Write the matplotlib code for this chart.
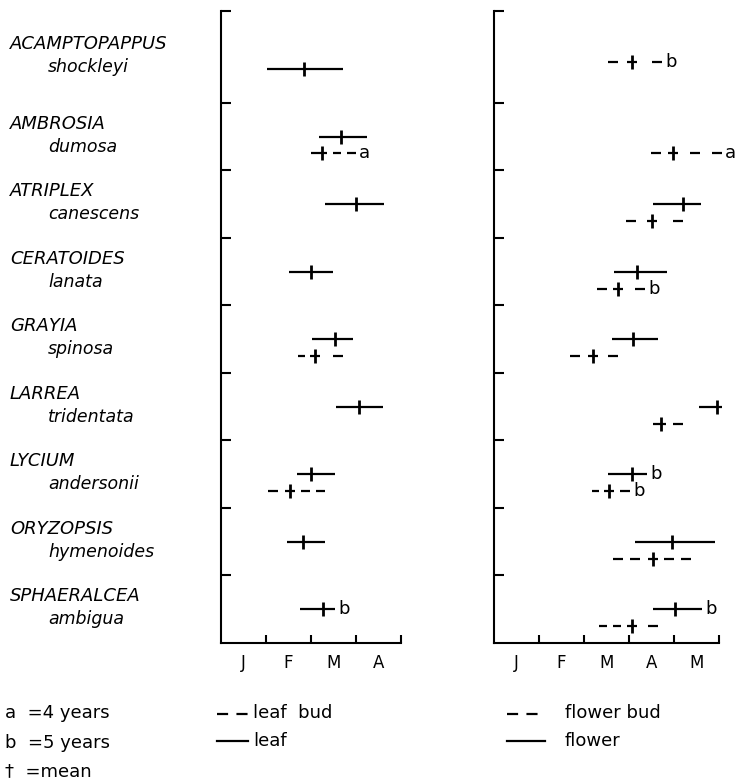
import matplotlib

matplotlib.use("Agg")
import matplotlib.pyplot as plt
import matplotlib.transforms as mtransforms
import numpy as np
from matplotlib.lines import Line2D

nan = np.nan

# values are months after 1 January (0 = Jan 1, 1 = Feb 1, ...)
genera = [
    "ACAMPTOPAPPUS",
    "AMBROSIA",
    "ATRIPLEX",
    "CERATOIDES",
    "GRAYIA",
    "LARREA",
    "LYCIUM",
    "ORYZOPSIS",
    "SPHAERALCEA",
]
epithets = [
    "shockleyi",
    "dumosa",
    "canescens",
    "lanata",
    "spinosa",
    "tridentata",
    "andersonii",
    "hymenoides",
    "ambigua",
]

leaf_start = [1.02, 2.18, 2.31, 1.51, 2.02, 2.56, 1.69, 1.47, 1.76]
leaf_mean = [1.84, 2.67, 3.00, 2.00, 2.53, 3.07, 2.00, 1.82, 2.27]
leaf_end = [2.71, 3.24, 3.62, 2.49, 2.93, 3.60, 2.53, 2.31, 2.53]
leaf_note = ["", "", "", "", "", "", "", "", "b"]

leafbud_start = [nan, 2.00, nan, nan, 1.71, nan, 1.04, nan, nan]
leafbud_mean = [nan, 2.24, nan, nan, 2.09, nan, 1.53, nan, nan]
leafbud_end = [nan, 3.00, nan, nan, 2.71, nan, 2.31, nan, nan]
leafbud_note = ["", "a", "", "", "", "", "", "", ""]

flower_start = [nan, nan, 3.53, 2.67, 2.62, 4.56, 2.53, 3.13, 3.53]
flower_mean = [nan, nan, 4.20, 3.18, 3.09, 4.96, 3.07, 3.96, 4.02]
flower_end = [nan, nan, 4.60, 3.84, 3.64, 5.07, 3.40, 4.91, 4.62]
flower_note = ["", "", "", "", "", "", "b", "", "b"]

flowerbud_start = [2.53, 3.49, 2.93, 2.29, 1.69, 3.53, 2.18, 2.64, 2.33]
flowerbud_mean = [3.07, 3.98, 3.51, 2.76, 2.20, 3.71, 2.56, 3.53, 3.07]
flowerbud_end = [3.73, 5.07, 4.20, 3.36, 2.76, 4.20, 3.02, 4.38, 3.64]
flowerbud_note = ["b", "a", "", "b", "", "", "b", "", ""]

leaf_months = ["J", "F", "M", "A"]
flower_months = ["J", "F", "M", "A", "M"]

LW = 1.6
DASH_PX, GAP_PX = 10.0, 8.0
DPI = 100


def half_dashes(a, b, dash, gap):
    """Dashes from a towards b (b is where the mean dash begins)."""
    length = abs(b - a)
    sign = 1 if b >= a else -1
    if length < 0.6 * dash:
        return [(a, b)]
    k = max(1, int(round(length / (dash + gap))))
    step = length / k
    d = min(dash, step * 0.6)
    return [(a + sign * j * step, a + sign * (j * step + d)) for j in range(k)]


def draw_bar(ax, y, start, mean, end, note, dashed):
    if np.isnan(start):
        return
    if dashed:
        px = ax.transData.transform((1, 0))[0] - ax.transData.transform((0, 0))[0]
        dash, gap = DASH_PX / px, GAP_PX / px
        segs = [(mean - dash / 2, mean + dash / 2)]
        segs += half_dashes(start, mean - dash / 2, dash, gap)
        segs += half_dashes(end, mean + dash / 2, dash, gap)
        x0 = [min(s) for s in segs]
        x1 = [max(s) for s in segs]
        ax.hlines([y] * len(segs), x0, x1, color="black", lw=LW,
                  capstyle="butt", clip_on=False)
    else:
        ax.plot([start, end], [y, y], color="black", lw=LW,
                solid_capstyle="butt", clip_on=False)
    ax.plot([mean], [y], color="black", marker="|", markersize=10,
            markeredgewidth=2.0, linestyle="none", clip_on=False)
    if note:
        ax.text(end + 0.07, y, note, ha="left", va="center", fontsize=13,
                clip_on=False)


def style_axis(ax, n_months, labels, top):
    ax.set_xlim(0, n_months)
    ax.set_ylim(0, top)
    for side in ("top", "right"):
        ax.spines[side].set_visible(False)
    for side in ("left", "bottom"):
        ax.spines[side].set_linewidth(1.5)
    ax.set_xticks(np.arange(1, n_months + 1))
    ax.set_xticklabels([])
    ax.set_xticks(np.arange(n_months) + 0.5, minor=True)
    ax.set_xticklabels(labels, minor=True, fontsize=12)
    ax.tick_params(axis="x", which="major", direction="in", length=6, width=1.5)
    ax.tick_params(axis="x", which="minor", length=0, pad=8)
    ax.set_yticks(list(range(1, len(genera))) + [top])
    ax.set_yticklabels([])
    ax.tick_params(axis="y", direction="in", length=7, width=1.5)


def main() -> None:
    plt.rcParams.update(
        {
            "font.family": "DejaVu Sans",
            "font.size": 12,
            "lines.scale_dashes": False,
        }
    )
    fig = plt.figure(figsize=(7.37, 7.83), dpi=DPI)
    W, H = 737, 783
    ax_leaf = fig.add_axes([221 / W, 140 / H, 180 / W, 632 / H])
    ax_flower = fig.add_axes([494 / W, 140 / H, 225 / W, 632 / H])

    n = len(genera)
    top = 9.36
    style_axis(ax_leaf, 4, leaf_months, top)
    style_axis(ax_flower, 5, flower_months, top)

    for i in range(n):
        center = n - 1 - i + 0.5
        bud_y = center - 0.25
        draw_bar(ax_leaf, center, leaf_start[i], leaf_mean[i], leaf_end[i],
                 leaf_note[i], False)
        draw_bar(ax_leaf, bud_y, leafbud_start[i], leafbud_mean[i],
                 leafbud_end[i], leafbud_note[i], True)
        draw_bar(ax_flower, center, flower_start[i], flower_mean[i],
                 flower_end[i], flower_note[i], False)
        # a flower bud alone in its row sits near the middle of the row
        alone = np.isnan(flower_start[i]) and np.isnan(leafbud_start[i])
        fb_y = center + 0.1 if alone else bud_y
        draw_bar(ax_flower, fb_y, flowerbud_start[i], flowerbud_mean[i],
                 flowerbud_end[i], flowerbud_note[i], True)

    # species names
    trans = mtransforms.blended_transform_factory(fig.transFigure, ax_leaf.transData)
    for i in range(n):
        lo = n - 1 - i
        hi = top if i == 0 else lo + 1
        mid = (lo + hi) / 2
        fig.text(10 / W, mid + 0.19, genera[i], transform=trans, fontsize=13,
                 style="italic", ha="left", va="center")
        fig.text(48 / W, mid - 0.15, epithets[i], transform=trans, fontsize=12.5,
                 style="italic", ha="left", va="center")

    # key
    def fy(py):
        return 1 - py / H

    fig.text(5 / W, fy(713), "a  =4 years", fontsize=13, va="center")
    fig.text(5 / W, fy(743), "b  =5 years", fontsize=13, va="center")
    fig.text(5 / W, fy(771), "\u2020  =mean", fontsize=13, va="center")

    for x0, x1, tx, words in ((217, 248, 253, ("leaf  bud", "leaf")),
                              (507, 545, 565, ("flower bud", "flower"))):
        fig.add_artist(Line2D([x0 / W, x1 / W], [fy(714), fy(714)],
                              transform=fig.transFigure, color="black", lw=LW,
                              linestyle=(0, (8.0, 6.0)), dash_capstyle="butt"))
        fig.add_artist(Line2D([x0 / W, x1 / W], [fy(741), fy(741)],
                              transform=fig.transFigure, color="black", lw=LW))
        fig.text(tx / W, fy(713), words[0], fontsize=13, va="center")
        fig.text(tx / W, fy(741), words[1], fontsize=13, va="center")

    fig.savefig("out.png", dpi=DPI)


if __name__ == "__main__":
    main()
